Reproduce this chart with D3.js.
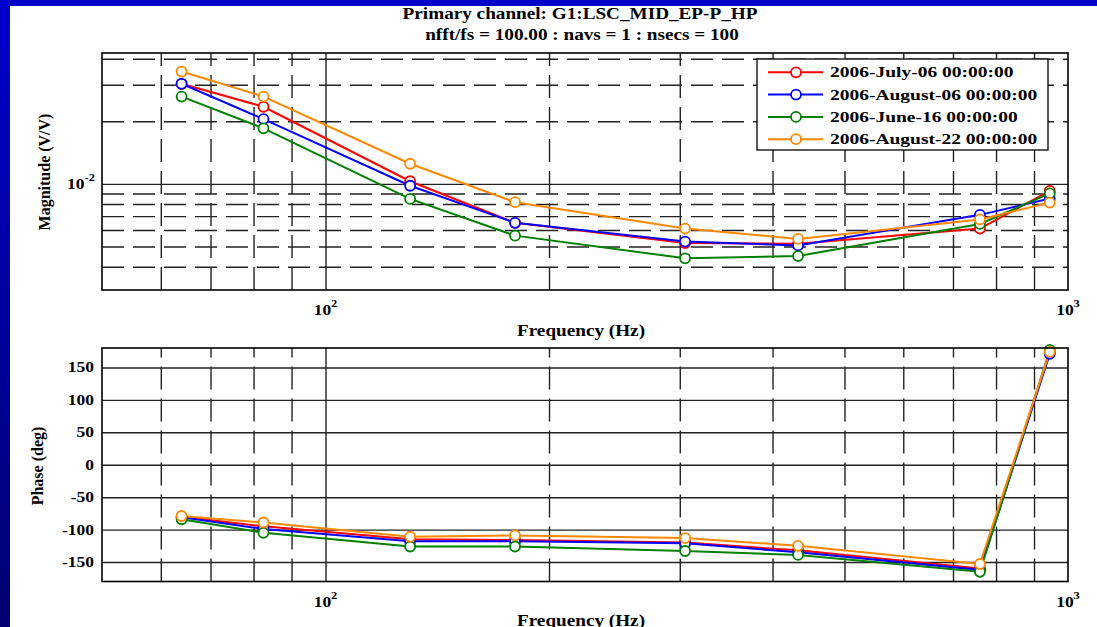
<!DOCTYPE html>
<html>
<head>
<meta charset="utf-8">
<script src="https://cdn.jsdelivr.net/npm/d3@7"></script>
<style>
  body { margin: 0; background: #fff; }
  svg { display: block; }
  text { font-family: "Liberation Serif", "Times New Roman", serif; font-weight: bold; fill: #000; }
</style>
</head>
<body>
<svg id="chart" width="1097" height="627"></svg>
<script>
// data
const freqs = [64, 82.5, 130, 180, 305, 433, 761, 945];
const seriesNames = ["2006-July-06 00:00:00", "2006-August-06 00:00:00", "2006-June-16 00:00:00", "2006-August-22 00:00:00"];
const seriesColors = ["#ff0000", "#0000ff", "#008000", "#ff8800"];

const magJul06 = [0.0303, 0.0235, 0.0103, 0.0065, 0.0052, 0.00515, 0.0061, 0.00925];
const magAug06 = [0.0303, 0.0205, 0.0098, 0.0065, 0.00528, 0.00506, 0.0071, 0.0085];
const magJun16 = [0.0263, 0.0185, 0.00847, 0.00564, 0.00439, 0.0045, 0.00642, 0.0090];
const magAug22 = [0.0347, 0.0263, 0.0125, 0.00817, 0.0061, 0.00544, 0.00675, 0.00813];

const phaseJul06 = [-80, -95, -115, -116, -120, -132, -160, 173];
const phaseAug06 = [-81, -99, -118, -118, -121, -135, -162, 171];
const phaseJun16 = [-84, -105, -126, -126, -133, -139, -165, 177];
const phaseAug22 = [-79, -89, -111, -109, -113, -125, -153, 174];

const xMinorTicks = [60, 70, 80, 90, 200, 300, 400, 500, 600, 700, 800, 900];
const xMajorTicks = [100, 1000];
const magMinorTicks = [0.004, 0.005, 0.006, 0.007, 0.008, 0.009, 0.02, 0.03, 0.04];
const magMajorTicks = [0.01];
const phaseTicks = [-150, -100, -50, 0, 50, 100, 150];

const titleLines = ["Primary channel: G1:LSC_MID_EP-P_HP", "nfft/fs = 100.00 : navs = 1 : nsecs = 100"];

const magSeries = [magJul06, magAug06, magJun16, magAug22];
const phaseSeries = [phaseJul06, phaseAug06, phaseJun16, phaseAug22];

const svg = d3.select("#chart");

// slide background: blue strips on top and left
const defs = svg.append("defs");
const grad = defs.append("linearGradient").attr("id", "side").attr("x1", 0).attr("y1", 0).attr("x2", 0).attr("y2", 1);
grad.append("stop").attr("offset", "0%").attr("stop-color", "#0000cc");
grad.append("stop").attr("offset", "100%").attr("stop-color", "#000070");
svg.append("rect").attr("x", 0).attr("y", 0).attr("width", 1097).attr("height", 627).attr("fill", "#fff");
svg.append("rect").attr("x", 0).attr("y", 0).attr("width", 1097).attr("height", 6).attr("fill", "#0000c8");
svg.append("rect").attr("x", 0).attr("y", 0).attr("width", 10).attr("height", 627).attr("fill", "url(#side)");

const x = d3.scaleLog().domain([50, 1000]).range([102, 1068]);
const yMag = d3.scaleLog().domain([0.00309, 0.0426]).range([290, 53]);
const yPhase = d3.scaleLinear().domain([-180, 180]).range([581.5, 348]);

// the reference text is stretched sideways
function stretchedText(parent, tx, ty, str, size, sx, anchor) {
  return parent.append("text")
    .attr("transform", `translate(${tx},${ty}) scale(${sx},1)`)
    .attr("text-anchor", anchor || "middle")
    .attr("font-size", size)
    .text(str);
}

function powerLabel(sel, base, exp) {
  sel.text(base);
  sel.append("tspan").attr("dy", -8).attr("font-size", 10).text(exp);
}

function drawPanel(y, minorY, majorY, series, dashY) {
  const [x0, x1] = x.range();
  const [yb, yt] = y.range();
  const g = svg.append("g");

  // vertical grid
  g.append("g").attr("transform", `translate(0,${yb})`)
    .call(d3.axisBottom(x).tickValues(xMinorTicks).tickSize(-(yb - yt)).tickFormat(""))
    .call(a => a.select(".domain").remove())
    .call(a => a.selectAll("line").attr("stroke", "#222").attr("stroke-width", 1.4).attr("stroke-dasharray", "23,9"));
  g.append("g").attr("transform", `translate(0,${yb})`)
    .call(d3.axisBottom(x).tickValues([100]).tickSize(-(yb - yt)).tickFormat(""))
    .call(a => a.select(".domain").remove())
    .call(a => a.selectAll("line").attr("stroke", "#222").attr("stroke-width", 1.4));

  // horizontal grid
  if (minorY.length) {
    g.append("g").attr("transform", `translate(${x0},0)`)
      .call(d3.axisLeft(y).tickValues(minorY).tickSize(-(x1 - x0)).tickFormat(""))
      .call(a => a.select(".domain").remove())
      .call(a => a.selectAll("line").attr("stroke", "#222").attr("stroke-width", 1.4).attr("stroke-dasharray", dashY ? "22,9" : null));
  }
  g.append("g").attr("transform", `translate(${x0},0)`)
    .call(d3.axisLeft(y).tickValues(majorY).tickSize(-(x1 - x0)).tickFormat(""))
    .call(a => a.select(".domain").remove())
    .call(a => a.selectAll("line").attr("stroke", "#222").attr("stroke-width", 1.4));

  // series lines and open circle markers
  const line = d3.line().x((d, i) => x(freqs[i])).y(d => y(d));
  series.forEach((vals, s) => {
    g.append("path").datum(vals)
      .attr("d", line)
      .attr("fill", "none")
      .attr("stroke", seriesColors[s])
      .attr("stroke-width", 2);
  });
  series.forEach((vals, s) => {
    g.selectAll(null).data(vals).join("circle")
      .attr("cx", (d, i) => x(freqs[i]))
      .attr("cy", d => y(d))
      .attr("r", 5)
      .attr("fill", "#fff")
      .attr("stroke", seriesColors[s])
      .attr("stroke-width", 1.8);
  });

  // frame
  g.append("rect").attr("x", x0).attr("y", yt).attr("width", x1 - x0).attr("height", yb - yt)
    .attr("fill", "none").attr("stroke", "#000").attr("stroke-width", 1.6);

  // x tick labels 10^2, 10^3
  xMajorTicks.forEach(t => {
    const lbl = g.append("text")
      .attr("transform", `translate(${x(t)},${yb + 25}) scale(1.25,1)`)
      .attr("text-anchor", "middle")
      .attr("font-size", 14);
    powerLabel(lbl, "10", String(Math.round(Math.log10(t))));
  });
  return g;
}

// magnitude panel
const gMag = drawPanel(yMag, magMinorTicks, magMajorTicks, magSeries, true);
magMajorTicks.forEach(t => {
  const lbl = gMag.append("text")
    .attr("transform", `translate(95,${yMag(t) + 5}) scale(1.25,1)`)
    .attr("text-anchor", "end")
    .attr("font-size", 14);
  powerLabel(lbl, "10", String(Math.round(Math.log10(t))));
});

// legend
const lg = svg.append("g");
lg.append("rect").attr("x", 757).attr("y", 59).attr("width", 291).attr("height", 91)
  .attr("fill", "#fff").attr("stroke", "#000").attr("stroke-width", 1.3);
seriesNames.forEach((name, i) => {
  const ly = 72.3 + i * 22.3;
  lg.append("line").attr("x1", 768).attr("x2", 823).attr("y1", ly).attr("y2", ly)
    .attr("stroke", seriesColors[i]).attr("stroke-width", 2);
  lg.append("circle").attr("cx", 796).attr("cy", ly).attr("r", 5)
    .attr("fill", "#fff").attr("stroke", seriesColors[i]).attr("stroke-width", 1.8);
  stretchedText(lg, 830, ly + 5, name, 15, 1.3, "start");
});

// phase panel
const gPh = drawPanel(yPhase, [], phaseTicks, phaseSeries, false);
phaseTicks.forEach(t => {
  stretchedText(gPh, 94, yPhase(t) + 5, String(t), 14, 1.25, "end");
});

// titles and axis labels
stretchedText(svg, 580, 19, titleLines[0], 16, 1.2);
stretchedText(svg, 582, 40, titleLines[1], 16, 1.2);
stretchedText(svg, 581, 336, "Frequency (Hz)", 16, 1.2);
stretchedText(svg, 581, 626, "Frequency (Hz)", 16, 1.2);

svg.append("text").attr("transform", "translate(50,172) rotate(-90)")
  .attr("text-anchor", "middle").attr("font-size", 16).text("Magnitude (V/V)");
svg.append("text").attr("transform", "translate(43,466) rotate(-90)")
  .attr("text-anchor", "middle").attr("font-size", 16).text("Phase (deg)");
</script>
</body>
</html>
